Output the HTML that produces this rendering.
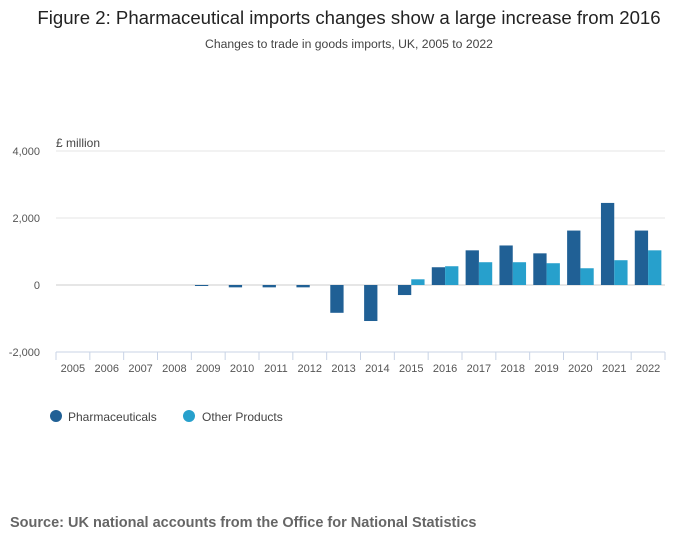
<!DOCTYPE html>
<html><head><meta charset="utf-8"><style>
body{margin:0;background:#fff;font-family:"Liberation Sans",sans-serif;}
svg text{font-family:"Liberation Sans",sans-serif;}
</style></head><body>
<svg id="chart" width="700" height="549" viewBox="0 0 700 549">
<text x="349" y="24" text-anchor="middle" font-size="18.6" fill="#222">Figure 2: Pharmaceutical imports changes show a large increase from 2016</text>
<text x="349" y="48" text-anchor="middle" font-size="12.2" fill="#444">Changes to trade in goods imports, UK, 2005 to 2022</text>
<text x="56" y="147" font-size="12" fill="#444">£ million</text>
<g id="grid"></g><g id="bars"></g><g id="xaxis"></g>
<g>
<circle cx="56" cy="416" r="6" fill="#206095"/>
<text x="68" y="421" font-size="12" fill="#444">Pharmaceuticals</text>
<circle cx="189" cy="416" r="6" fill="#27a0cc"/>
<text x="202" y="421" font-size="12" fill="#444">Other Products</text>
</g>
<text x="10" y="527" font-size="14.5" font-weight="bold" fill="#666">Source: UK national accounts from the Office for National Statistics</text>
</svg>
<script>
const categories=["2005","2006","2007","2008","2009","2010","2011","2012","2013","2014","2015","2016","2017","2018","2019","2020","2021","2022"];
const pharma=[0,0,0,0,-30,-70,-70,-70,-830,-1075,-300,530,1035,1180,945,1625,2450,1625];
const other=[0,0,0,0,0,0,0,0,0,0,170,560,680,680,650,500,740,1035];
const yTicks=[-2000,0,2000,4000];
const yTickLabels=["-2,000","0","2,000","4,000"];
const NS="http://www.w3.org/2000/svg";
const x0=56,x1=665,slot=(x1-x0)/categories.length;
const y=v=>285-v*67/2000;
const xs=i=>x0+i*slot;
function mk(t,a,p){const e=document.createElementNS(NS,t);for(const k in a)e.setAttribute(k,a[k]);p.appendChild(e);return e;}
const grid=document.getElementById('grid'),bars=document.getElementById('bars'),xa=document.getElementById('xaxis');
yTicks.forEach((t,i)=>{
 if(t!==-2000){const l=mk('line',{x1:x0,x2:x1,y1:y(t),y2:y(t),stroke:t===0?'#ddd':'#e6e6e6','stroke-width':t===0?1.5:1},grid);
 
 }
 const tx=mk('text',{x:40,y:y(t)+4,'text-anchor':'end','font-size':11,fill:'#555'},grid);tx.textContent=yTickLabels[i];
 
 
});
const bw=13.3;
categories.forEach((c,i)=>{
 const cx=xs(i)+slot/2;
 [[pharma[i],'#206095',cx-bw],[other[i],'#27a0cc',cx]].forEach(([v,col,bx],k)=>{
  if(v===0)return;
  const r=mk('rect',{x:bx,y:Math.min(y(v),y(0)),width:bw,height:Math.abs(y(v)-y(0)),fill:col},bars);
  
  
 });
 const t=mk('line',{x1:xs(i),x2:xs(i),y1:352,y2:360,stroke:'#c8d3e6'},xa);
 
 
 const lb=mk('text',{x:cx,y:372,'text-anchor':'middle','font-size':11,fill:'#555'},xa);lb.textContent=c;
 
 
});
const e=mk('line',{x1:x1,x2:x1,y1:352,y2:360,stroke:'#c8d3e6'},xa);


const ax=mk('line',{x1:x0,x2:x1,y1:352,y2:352,stroke:'#c8d3e6'},xa);


</script>
</body></html>
